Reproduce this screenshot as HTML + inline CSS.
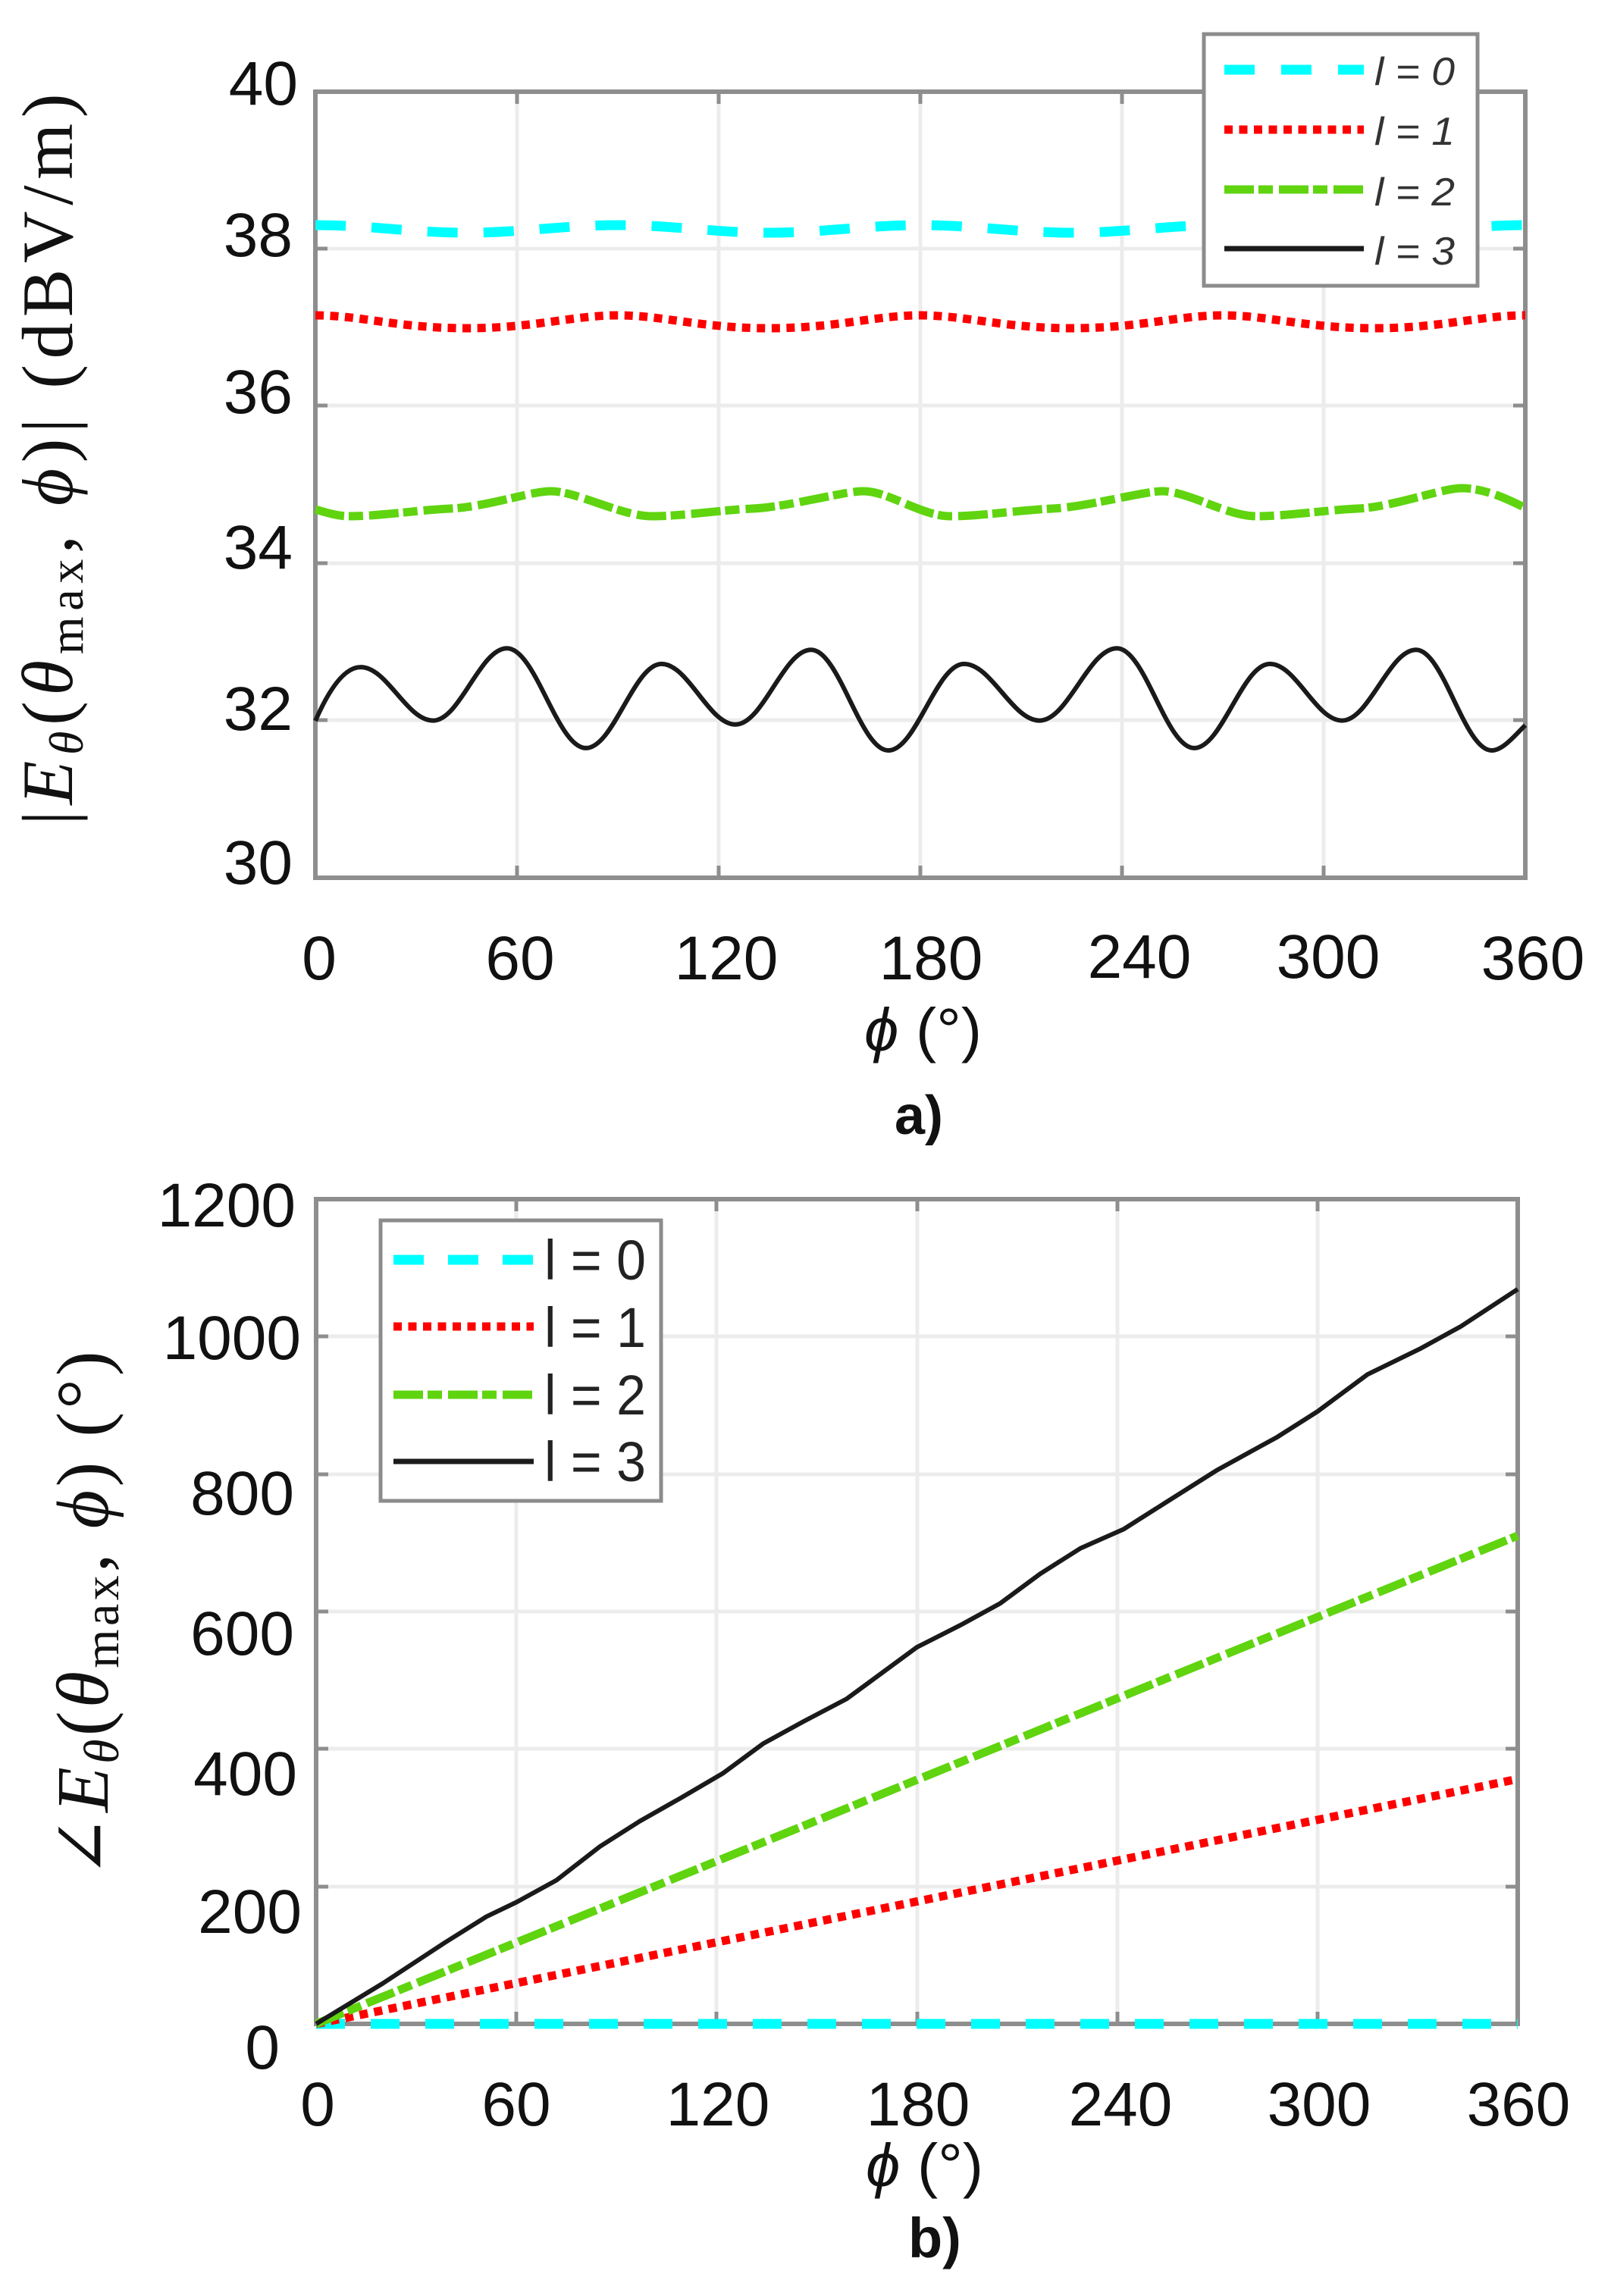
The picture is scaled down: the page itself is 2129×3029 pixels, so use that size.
<!DOCTYPE html>
<html>
<head>
<meta charset="utf-8">
<style>
html,body{margin:0;padding:0;background:#fff;overflow:hidden;}
svg{display:block;}
text{font-family:"Liberation Sans",sans-serif;fill:#111;}
.serif{font-family:"Liberation Serif","DejaVu Serif",serif;}
</style>
</head>
<body>
<svg width="2129" height="3029" viewBox="0 0 2129 3029" xmlns="http://www.w3.org/2000/svg">
<rect x="0" y="0" width="2129" height="3029" fill="#fff"/>

<!-- ================= PANEL A ================= -->
<g stroke="#ececec" stroke-width="5" fill="none">
  <path d="M682,121V1158M948,121V1158M1214,121V1158M1480,121V1158M1746,121V1158"/>
  <path d="M416,328H2012M416,535H2012M416,743H2012M416,950H2012"/>
</g>
<rect x="416" y="121" width="1596" height="1037" fill="none" stroke="#8e8e8e" stroke-width="6"/>
<g stroke="#8e8e8e" stroke-width="5" fill="none">
  <path d="M416,328h16M416,535h16M416,743h16M416,950h16"/>
  <path d="M2012,328h-16M2012,535h-16M2012,743h-16M2012,950h-16"/>
  <path d="M682,1158v-16M948,1158v-16M1214,1158v-16M1480,1158v-16M1746,1158v-16"/>
  <path d="M682,121v16M948,121v16M1214,121v16M1480,121v16M1746,121v16"/>
</g>

<!-- curves a -->
<path d="M416,297 C488.7,297 542.8,307 615.5,307 S742.3,297 815,297 S941.8,307 1014.5,307 S1141.3,297 1214,297 S1340.8,307 1413.5,307 S1540.3,297 1613,297 S1739.8,307 1812.5,307 S1939.3,297 2012,297"
  fill="none" stroke="#00ffff" stroke-width="13" stroke-dasharray="40 34"/>
<path d="M416,416 C476,416 525.5,433 615.5,433 S755,416 815,416 S924.5,433 1014.5,433 S1154,416 1214,416 S1323.5,433 1413.5,433 S1553,416 1613,416 S1722.5,433 1812.5,433 S1952,416 2012,416"
  fill="none" stroke="#ff0000" stroke-width="11" stroke-dasharray="11 8.5"/>
<path d="M416,672 C430,676 445,681 460.3,681 C500.3,681 550.3,673 593.3,671 C640.3,669 700.3,648 726.3,648 C760.3,648 820.3,681 859.3,681 C899.3,681 949.3,673 992.3,671 C1039.3,669 1112.6,648 1138.6,648 C1172.6,648 1214.9,681 1253.9,681 C1293.9,681 1343.9,673 1386.9,671 C1433.9,669 1507.2,648 1533.2,648 C1567.2,648 1618.3,681 1657.3,681 C1697.3,681 1747.3,673 1790.3,671 C1837.3,669 1901.8,644 1927.8,644 C1961.8,644 1995,662 2012,670"
  fill="none" stroke="#5fd40f" stroke-width="11" stroke-dasharray="39 6 19 8"/>
<path d="M416,951 C436,905 456,880 475.9,880.1 C510.6,880.1 536.5,950.6 571.2,950.6 C606.7,950.6 633.2,855.2 668.7,855.2 C706.6,855.2 735,986.9 772.9,986.9 C809.2,986.9 836.3,875.9 872.6,875.9 C908.1,875.9 934.7,955.8 970.2,955.8 C1006.5,955.8 1033.6,857.3 1069.9,857.3 C1107,857.3 1134.8,990 1171.9,990 C1208.2,990 1235.3,875.9 1271.6,875.9 C1307.9,875.9 1335.1,950.6 1371.4,950.6 C1408.5,950.6 1436.2,855.2 1473.3,855.2 C1510.4,855.2 1538.2,986.9 1575.3,986.9 C1611.6,986.9 1638.8,875.9 1675.1,875.9 C1709.8,875.9 1735.7,950.6 1770.4,950.6 C1805.9,950.6 1832.4,857.3 1867.9,857.3 C1904.2,857.3 1931.4,990 1967.7,990 C1983,990 2000,968 2012,956.8"
  fill="none" stroke="#1a1a1a" stroke-width="6"/>

<!-- legend a -->
<rect x="1588" y="45" width="361" height="332" fill="#fff" stroke="#8c8c8c" stroke-width="5"/>
<path d="M1615,92H1799" stroke="#00ffff" stroke-width="13" stroke-dasharray="40 35"/>
<path d="M1615,171H1799" stroke="#ff0000" stroke-width="11" stroke-dasharray="11 8.5"/>
<path d="M1615,250H1799" stroke="#5fd40f" stroke-width="11" stroke-dasharray="39 6 19 8"/>
<path d="M1615,328H1799" stroke="#1a1a1a" stroke-width="7"/>
<g font-size="52" font-style="italic">
  <text x="1813" y="112" textLength="106" lengthAdjust="spacingAndGlyphs" style="fill:#333">l = 0</text>
  <text x="1813" y="191" textLength="106" lengthAdjust="spacingAndGlyphs" style="fill:#333">l = 1</text>
  <text x="1813" y="271" textLength="106" lengthAdjust="spacingAndGlyphs" style="fill:#333">l = 2</text>
  <text x="1813" y="349" textLength="106" lengthAdjust="spacingAndGlyphs" style="fill:#333">l = 3</text>
</g>

<!-- tick labels a -->
<g font-size="82" text-anchor="end">
  <text x="393" y="138">40</text>
  <text x="386" y="338">38</text>
  <text x="386" y="545">36</text>
  <text x="386" y="750">34</text>
  <text x="386" y="963">32</text>
  <text x="386" y="1166">30</text>
</g>
<g font-size="82" text-anchor="middle">
  <text x="421" y="1292">0</text>
  <text x="686" y="1292">60</text>
  <text x="958" y="1292">120</text>
  <text x="1228" y="1292">180</text>
  <text x="1503" y="1290">240</text>
  <text x="1752" y="1290">300</text>
  <text x="2022" y="1292">360</text>
</g>
<text x="1140" y="1386" font-size="80" textLength="155" lengthAdjust="spacingAndGlyphs"><tspan font-style="italic">ϕ</tspan> (°)</text>
<text x="1180" y="1496" font-size="72" font-weight="bold">a)</text>

<text class="serif" transform="translate(95,606) rotate(-90)" text-anchor="middle" font-size="95" textLength="965" lengthAdjust="spacing">|<tspan font-style="italic">E</tspan><tspan font-style="italic" font-size="64" dy="14">θ</tspan><tspan dy="-14">(</tspan><tspan font-style="italic">θ</tspan><tspan font-size="64" dy="14">max</tspan><tspan dy="-14">, </tspan><tspan font-style="italic">ϕ</tspan>)| (dBV/m)</text>

<!-- ================= PANEL B ================= -->
<g stroke="#ececec" stroke-width="5" fill="none">
  <path d="M681,1582V2670M945,1582V2670M1210,1582V2670M1474,1582V2670M1738,1582V2670"/>
  <path d="M417,1763H2002M417,1945H2002M417,2126H2002M417,2307H2002M417,2489H2002"/>
</g>
<rect x="417" y="1582" width="1585" height="1088" fill="none" stroke="#8e8e8e" stroke-width="6"/>
<g stroke="#8e8e8e" stroke-width="5" fill="none">
  <path d="M417,1763h16M417,1945h16M417,2126h16M417,2307h16M417,2489h16"/>
  <path d="M2002,1763h-16M2002,1945h-16M2002,2126h-16M2002,2307h-16M2002,2489h-16"/>
  <path d="M681,2670v-16M945,2670v-16M1210,2670v-16M1474,2670v-16M1738,2670v-16"/>
  <path d="M681,1582v16M945,1582v16M1210,1582v16M1474,1582v16M1738,1582v16"/>
</g>

<!-- curves b -->
<path d="M417,2670H2002" stroke="#00ffff" stroke-width="13" stroke-dasharray="38 34"/>
<path d="M417,2670L2002,2347" stroke="#ff0000" stroke-width="11" stroke-dasharray="11 8.5" fill="none"/>
<path d="M417,2670L2002,2026" stroke="#5fd40f" stroke-width="11" stroke-dasharray="39 6 19 8" fill="none"/>
<polyline points="417,2670 505.1,2616.5 586.5,2563 641.5,2528.6 681.2,2509.5 734,2480.5 791.2,2436.1 844.1,2402.5 896.9,2372.6 954.1,2339.1 1007,2300.1 1059.8,2271.1 1117,2241.1 1169.9,2202.2 1209.5,2173.1 1266.7,2144.1 1319.6,2115.1 1372.4,2076.1 1425.2,2042.6 1482.5,2017.2 1535.3,1983.7 1605.8,1939.2 1685,1895.7 1737.8,1862.2 1803.9,1813.2 1874.3,1778.8 1927.2,1749.7 2002,1700.8"
  fill="none" stroke="#1a1a1a" stroke-width="6" stroke-linejoin="round"/>

<!-- legend b -->
<rect x="502" y="1610" width="370" height="370" fill="#fff" stroke="#8c8c8c" stroke-width="5"/>
<path d="M519,1662H704" stroke="#00ffff" stroke-width="13" stroke-dasharray="40 32"/>
<path d="M519,1750H704" stroke="#ff0000" stroke-width="11" stroke-dasharray="11 8.5"/>
<path d="M519,1840H704" stroke="#5fd40f" stroke-width="11" stroke-dasharray="39 6 19 8"/>
<path d="M519,1928H704" stroke="#1a1a1a" stroke-width="7"/>
<g font-size="74">
  <text x="718" y="1688" textLength="134" lengthAdjust="spacingAndGlyphs" style="fill:#222">l = 0</text>
  <text x="718" y="1777" textLength="134" lengthAdjust="spacingAndGlyphs" style="fill:#222">l = 1</text>
  <text x="718" y="1866" textLength="134" lengthAdjust="spacingAndGlyphs" style="fill:#222">l = 2</text>
  <text x="718" y="1954" textLength="134" lengthAdjust="spacingAndGlyphs" style="fill:#222">l = 3</text>
</g>

<!-- tick labels b -->
<g font-size="82" text-anchor="end">
  <text x="390" y="1618">1200</text>
  <text x="397" y="1793">1000</text>
  <text x="388" y="1998">800</text>
  <text x="388" y="2183">600</text>
  <text x="392" y="2368">400</text>
  <text x="398" y="2550">200</text>
  <text x="369" y="2729">0</text>
</g>
<g font-size="82" text-anchor="middle">
  <text x="419" y="2804">0</text>
  <text x="681" y="2804">60</text>
  <text x="947" y="2804">120</text>
  <text x="1211" y="2804">180</text>
  <text x="1478" y="2804">240</text>
  <text x="1740" y="2804">300</text>
  <text x="2003" y="2804">360</text>
</g>
<text x="1142" y="2884" font-size="80" textLength="155" lengthAdjust="spacingAndGlyphs"><tspan font-style="italic">ϕ</tspan> (°)</text>
<text x="1198" y="2978" font-size="74" font-weight="bold">b)</text>

<text class="serif" transform="translate(142,2130) rotate(-90)" text-anchor="middle" font-size="98" textLength="695" lengthAdjust="spacing">∠<tspan font-style="italic">E</tspan><tspan font-style="italic" font-size="66" dy="14">θ</tspan><tspan dy="-14">(</tspan><tspan font-style="italic">θ</tspan><tspan font-size="66" dy="14">max</tspan><tspan dy="-14">, </tspan><tspan font-style="italic">ϕ</tspan>) (°)</text>

</svg>
</body>
</html>
